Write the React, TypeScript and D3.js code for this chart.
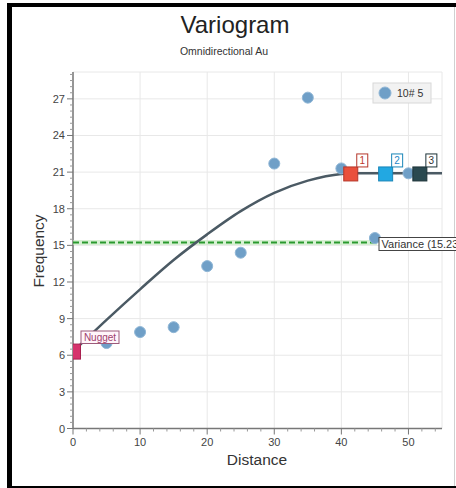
import React from "react";
import * as d3 from "d3";

const lagDistances = [5, 10, 15, 20, 25, 30, 35, 40, 45, 50];
const lagGamma = [7.0, 7.9, 8.3, 13.3, 14.4, 21.7, 27.1, 21.3, 15.6, 20.9];

const modelDistances = [0, 5, 10, 15, 20, 25, 30, 35, 40, 42, 55];
const modelGamma = [6.3, 8.9, 11.4, 13.8, 15.9, 17.8, 19.3, 20.3, 20.85, 20.9, 20.9];

const nuggetValue = 6.3;
const varianceValue = 15.23;
const varianceEnd = 45.3;
const sillValue = 20.85;
const markerDistances = [41.4, 46.6, 51.7];
const markerLabels = ["1", "2", "3"];
const markerFill = ["#e9503c", "#22a8e2", "#2a4950"];
const markerStroke = ["#b5362a", "#1a86b8", "#1d3338"];
const markerText = ["#c0392b", "#1e88c8", "#333333"];

const xTicks = [0, 10, 20, 30, 40, 50];
const yTicks = [0, 3, 6, 9, 12, 15, 18, 21, 24, 27];

const W = 456;
const H = 488;
const FONT = "Arial, 'Liberation Sans', sans-serif";

export default function App() {
  const x = d3.scaleLinear().domain([0, 55]).range([73, 442]);
  const y = d3.scaleLinear().domain([0, 29.2]).range([428.5, 72]);
  const [x0, x1] = x.range();
  const [y0, y1] = y.range();

  const yMinor = d3.range(0, 29.01, 0.5).filter((v) => v % 3 !== 0);
  const xMinor = d3.range(0, 55.01, 2).filter((v) => v % 10 !== 0);

  const line = d3
    .line<number>()
    .x((_, i) => x(modelDistances[i]))
    .y((d) => y(d))
    .curve(d3.curveMonotoneX);

  return (
    <div style={{ position: "fixed", left: 0, top: 0 }}>
      <svg width={W} height={H} style={{ display: "block", background: "#fff" }} fontFamily={FONT}>
        <defs>
          <clipPath id="plot">
            <rect x={x0} y={y1} width={x1 - x0} height={y0 - y1} />
          </clipPath>
        </defs>
        {/* frame */}
        <rect x={0} y={0} width={W} height={H} fill="#ffffff" />
        <rect x={7} y={3} width={W - 7} height={4} fill="#000" />
        <rect x={7} y={3} width={5} height={H - 3} fill="#000" />
        <rect x={7} y={486} width={W - 7} height={2} fill="#000" />
        <line x1={454.5} x2={454.5} y1={7} y2={486} stroke="#d0d0d0" />

        {/* titles */}
        <text x={235} y={33} textAnchor="middle" fontSize={24} fill="#222">Variogram</text>
        <text x={224} y={55} textAnchor="middle" fontSize={10.5} fill="#333">Omnidirectional Au</text>

        {/* grid */}
        {xTicks.concat([55]).map((t) => (
          <line key={"gx" + t} x1={x(t)} x2={x(t)} y1={y1} y2={y0} stroke="#e8e8e8" />
        ))}
        {yTicks.map((t) => (
          <line key={"gy" + t} x1={x0} x2={x1} y1={y(t)} y2={y(t)} stroke="#e8e8e8" />
        ))}
        <line x1={x0} x2={x1} y1={y1} y2={y1} stroke="#e8e8e8" />

        {/* axes */}
        <line x1={x0} x2={x0} y1={y1} y2={y0} stroke="#777" strokeWidth={1.5} />
        <line x1={x0} x2={x1} y1={y0} y2={y0} stroke="#777" strokeWidth={1.5} />
        {yTicks.map((t) => (
          <g key={"yt" + t}>
            <line x1={x0 - 6} x2={x0} y1={y(t)} y2={y(t)} stroke="#777" />
            <text x={x0 - 8} y={y(t) + 4} textAnchor="end" fontSize={11} fill="#444">{t}</text>
          </g>
        ))}
        {yMinor.map((t) => (
          <line key={"ym" + t} x1={x0 - 3} x2={x0} y1={y(t)} y2={y(t)} stroke="#999" />
        ))}
        {xTicks.map((t) => (
          <g key={"xt" + t}>
            <line x1={x(t)} x2={x(t)} y1={y0} y2={y0 + 6} stroke="#777" />
            <text x={x(t)} y={y0 + 17} textAnchor="middle" fontSize={11} fill="#444">{t}</text>
          </g>
        ))}
        {xMinor.map((t) => (
          <line key={"xm" + t} x1={x(t)} x2={x(t)} y1={y0} y2={y0 + 3} stroke="#999" />
        ))}
        <text x={257} y={465} textAnchor="middle" fontSize={15.5} fill="#333">Distance</text>
        <text transform="translate(44,251) rotate(-90)" textAnchor="middle" fontSize={15.5} fill="#333">Frequency</text>

        {/* variance line */}
        <line x1={x0} x2={x(varianceEnd)} y1={y(varianceValue)} y2={y(varianceValue)} stroke="#bfe8b8" strokeWidth={5} opacity={0.6} />
        <line x1={x0} x2={x(varianceEnd)} y1={y(varianceValue)} y2={y(varianceValue)} stroke="#2a9a2e" strokeWidth={2} strokeDasharray="6,3" />

        {/* model curve */}
        <path d={line(modelGamma) || ""} fill="none" stroke="#4b5a64" strokeWidth={2.5} clipPath="url(#plot)" />

        {/* experimental points */}
        {lagDistances.map((d, i) => (
          <circle key={"p" + i} cx={x(d)} cy={y(lagGamma[i])} r={5.5} fill="#6f9fc7" stroke="#8fb6d6" strokeWidth={1} />
        ))}

        {/* nugget */}
        <g clipPath="url(#plot)">
          <rect x={x(0) - 7.5} y={y(nuggetValue) - 7.5} width={15} height={15} fill="#d6336c" stroke="#a8204f" />
        </g>
        <rect x={81} y={331} width={38} height={12.5} fill="#fff5fa" stroke="#9c5a7a" />
        <text x={100} y={341} textAnchor="middle" fontSize={10} fill="#a0406e">Nugget</text>

        {/* structure markers */}
        {markerDistances.map((d, i) => (
          <g key={"m" + i}>
            <rect x={x(d) - 7} y={y(sillValue) - 7} width={14} height={14} fill={markerFill[i]} stroke={markerStroke[i]} />
            <rect x={x(d) + 6} y={y(sillValue) - 20} width={11} height={13} fill="#fff" stroke={markerStroke[i]} />
            <text x={x(d) + 11.5} y={y(sillValue) - 9.5} textAnchor="middle" fontSize={10} fill={markerText[i]}>{markerLabels[i]}</text>
          </g>
        ))}

        {/* variance label */}
        <rect x={379} y={237.5} width={90} height={13} fill="#fff" stroke="#444" />
        <text x={381.5} y={248} fontSize={11} fill="#333">Variance (15.23)</text>

        {/* legend */}
        <rect x={373} y={83} width={58} height={20} fill="#f2f2f2" stroke="#d8d8d8" />
        <circle cx={385} cy={93} r={6} fill="#6f9fc7" stroke="#8fb6d6" />
        <text x={397} y={97} fontSize={10.5} fill="#333">10# 5</text>
      </svg>
    </div>
  );
}
